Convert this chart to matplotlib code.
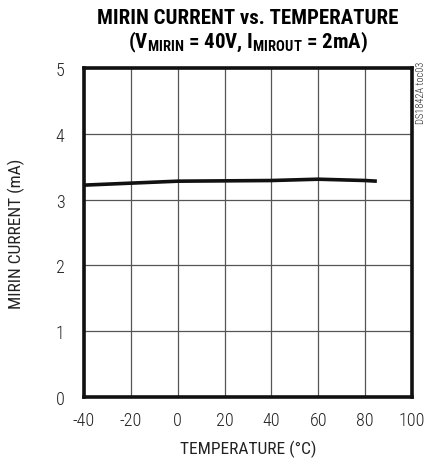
import matplotlib
matplotlib.use('Agg')
import matplotlib.pyplot as plt

temps = [-40, -20, 0, 20, 40, 60, 80, 85]
current = [3.22, 3.25, 3.28, 3.285, 3.29, 3.31, 3.29, 3.28]
xticks = [-40, -20, 0, 20, 40, 60, 80, 100]
yticks = [0, 1, 2, 3, 4, 5]

plt.rcParams['font.family'] = ['Roboto Condensed', 'DejaVu Sans']
plt.rcParams['font.weight'] = 'light'
plt.rcParams['axes.unicode_minus'] = False
plt.rcParams['mathtext.fontset'] = 'custom'
plt.rcParams['mathtext.bf'] = 'Roboto Condensed:bold'
plt.rcParams['mathtext.rm'] = 'Roboto Condensed'

fig = plt.figure(figsize=(4.27, 4.6), dpi=100)
ax = fig.add_axes([84/427, 62/460, 328/427, 329/460])

ax.plot(temps, current, color='#111111', lw=2.6, solid_capstyle='butt')
ax.set_xlim(-40, 100)
ax.set_ylim(0, 5)
ax.set_xticks(xticks)
ax.set_yticks(yticks)
ax.grid(True, color='#555555', lw=0.9)
ax.tick_params(length=0, labelsize=13, pad=10, colors='#222222')
ax.tick_params(axis='y', pad=14)
for s in ax.spines.values():
	s.set_linewidth(2.6)
	s.set_color('#111111')

ax.set_xlabel('TEMPERATURE (°C)', fontsize=12.5, labelpad=8, color='#222222')
ax.set_ylabel('MIRIN CURRENT (mA)', fontsize=12.5, labelpad=22, color='#222222')

fig.text(248/427, 1 - 18/460, 'MIRIN CURRENT vs. TEMPERATURE', ha='center', va='center',
		 fontsize=15, fontweight='bold')
fig.text(248/427, 1 - 42/460, r'(V$_{\mathbf{MIRIN}}$ = 40V, I$_{\mathbf{MIROUT}}$ = 2mA)',
		 ha='center', va='center', fontsize=15, fontweight='bold')
fig.text(421/427, 1 - 62/460, 'DS1842A toc03', rotation=90, ha='center', va='top',
		 fontsize=7.5, color='#222222')

fig.savefig('out.png', dpi=100)
